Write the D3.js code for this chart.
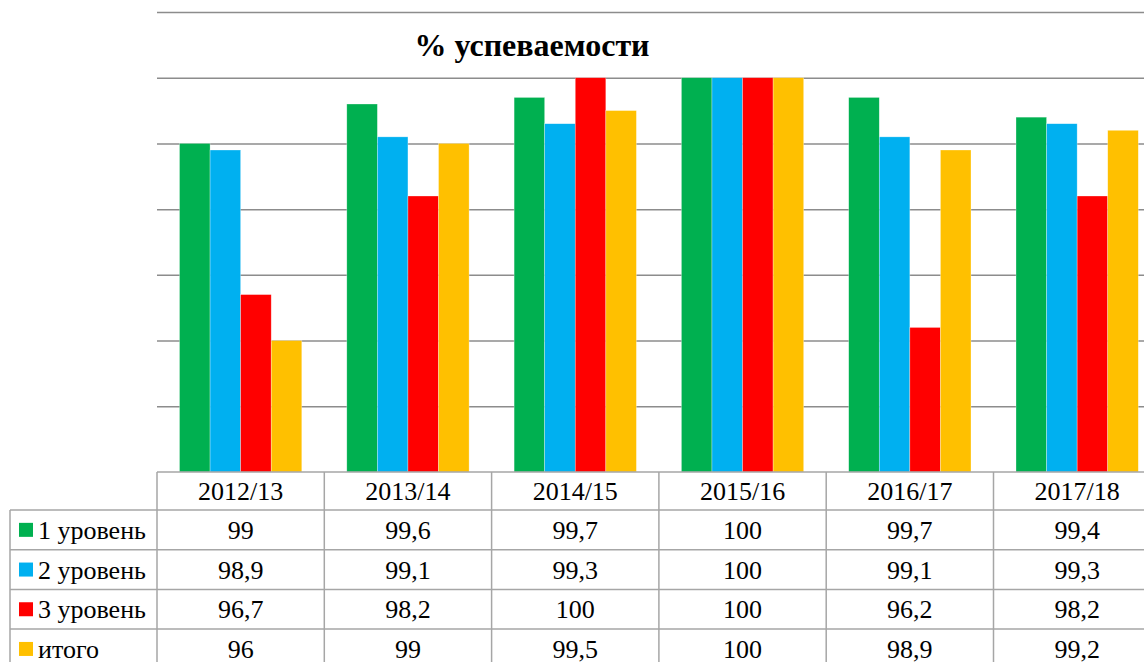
<!DOCTYPE html>
<html>
<head>
<meta charset="UTF-8">
<script src="https://d3js.org/d3.v7.min.js"></script>
</head>
<body style="margin:0">
<script>
    const years = ["2012/13", "2013/14", "2014/15", "2015/16", "2016/17", "2017/18"];
    const seriesNames = ["1 уровень", "2 уровень", "3 уровень", "итого"];
    const level1 = [99, 99.6, 99.7, 100, 99.7, 99.4];
    const level2 = [98.9, 99.1, 99.3, 100, 99.1, 99.3];
    const level3 = [96.7, 98.2, 100, 100, 96.2, 98.2];
    const total = [96, 99, 99.5, 100, 98.9, 99.2];
    const colors = ["#00B050", "#00B0F0", "#FF0000", "#FFC000"];

    const series = [level1, level2, level3, total];
    const serif = "'Liberation Serif'";

    const W = 1144, H = 662;
    const plot = { left: 157, top: 12, bottom: 472, step: 167.3 };
    const plotRight = plot.left + plot.step * years.length;
    const fs = 26;

    const svg = d3.select("body").append("svg")
        .attr("width", W)
        .attr("height", H)
        .style("display", "block");

    const x0 = d3.scaleBand()
        .domain(years)
        .range([plot.left, plotRight])
        .padding(0);

    const x1 = d3.scaleBand()
        .domain(seriesNames)
        .range([22.5, plot.step - 22.5])
        .padding(0);

    const y = d3.scaleLinear()
        .domain([94, 101])
        .range([plot.bottom, plot.top]);

    // gridlines
    const grid = svg.append("g")
        .attr("transform", `translate(${plot.left},0)`)
        .call(d3.axisLeft(y)
            .tickValues(d3.range(95, 102))
            .tickSize(-(plotRight - plot.left))
            .tickFormat(""));
    grid.select(".domain").remove();
    grid.selectAll("line").attr("stroke", "#8c8c8c").attr("stroke-width", 1.5);

    // title
    svg.append("text")
        .attr("x", 532)
        .attr("y", 56)
        .attr("text-anchor", "middle")
        .style("font-family", serif)
        .style("font-size", "32px")
        .style("font-weight", "bold")
        .text("% успеваемости");

    // bars
    const groups = svg.selectAll(".year")
        .data(years)
        .join("g")
        .attr("class", "year")
        .attr("transform", d => `translate(${x0(d)},0)`);

    groups.selectAll("rect")
        .data((d, i) => series.map((s, k) => ({ name: seriesNames[k], value: s[i], color: colors[k] })))
        .join("rect")
        .attr("x", d => x1(d.name))
        .attr("y", d => y(d.value))
        .attr("width", x1.bandwidth())
        .attr("height", d => y(94) - y(d.value))
        .attr("fill", d => d.color)
        .attr("stroke", "rgba(255,255,255,0.5)")
        .attr("stroke-width", 0.6);

    // data table
    const rowH = [38, 39.7, 39.7, 39.7, 39.7];
    const rowTop = [plot.bottom];
    rowH.forEach((h, i) => rowTop.push(rowTop[i] + h));
    const tableLeft = 10;

    const table = svg.append("g");
    const hline = (x1v, x2v, yv) => table.append("line")
        .attr("x1", x1v).attr("x2", x2v).attr("y1", yv).attr("y2", yv)
        .attr("stroke", "#a6a6a6").attr("stroke-width", 1.5);
    const vline = (xv, y1v, y2v) => table.append("line")
        .attr("x1", xv).attr("x2", xv).attr("y1", y1v).attr("y2", y2v)
        .attr("stroke", "#a6a6a6").attr("stroke-width", 1.5);

    hline(plot.left, plotRight, rowTop[0]);
    for (let r = 1; r < rowTop.length; r++) hline(tableLeft, plotRight, rowTop[r]);
    vline(tableLeft, rowTop[1], H);
    for (let i = 0; i <= years.length; i++) vline(plot.left + plot.step * i, rowTop[0], H);

    // header
    years.forEach(yr => {
        svg.append("text")
            .attr("x", x0(yr) + plot.step / 2)
            .attr("y", rowTop[0] + rowH[0] / 2 + 9)
            .attr("text-anchor", "middle")
            .style("font-family", serif)
            .style("font-size", fs + "px")
            .text(yr);
    });

    // rows
    series.forEach((s, k) => {
        const mid = rowTop[k + 1] + rowH[k + 1] / 2;
        svg.append("rect")
            .attr("x", 19)
            .attr("y", mid - 7)
            .attr("width", 14)
            .attr("height", 14)
            .attr("fill", colors[k]);
        svg.append("text")
            .attr("x", 38)
            .attr("y", mid + 9)
            .style("font-family", serif)
            .style("font-size", fs + "px")
            .text(seriesNames[k]);
        s.forEach((v, i) => {
            svg.append("text")
                .attr("x", x0(years[i]) + plot.step / 2)
                .attr("y", mid + 9)
                .attr("text-anchor", "middle")
                .style("font-family", serif)
                .style("font-size", fs + "px")
                .text(String(v).replace(".", ","));
        });
    });
</script>
</body>
</html>
